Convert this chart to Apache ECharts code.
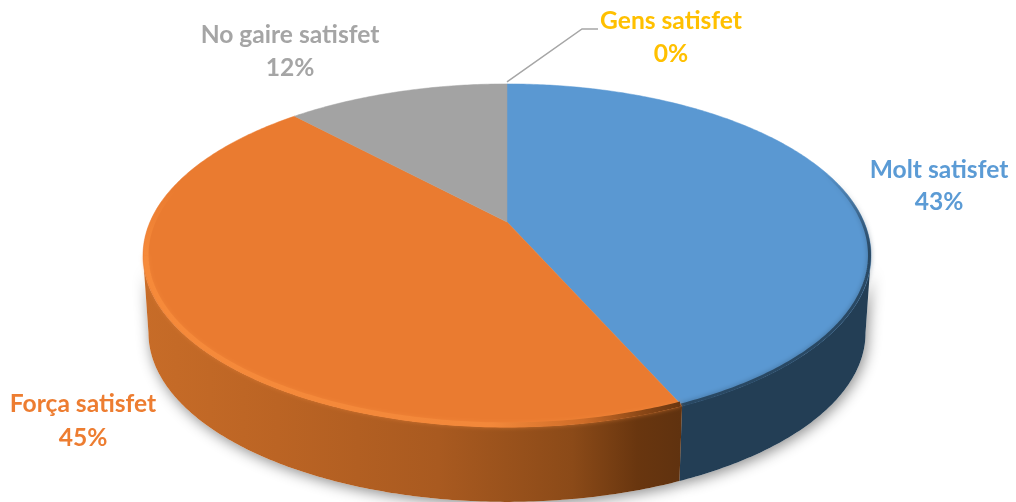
<!DOCTYPE html>
<html>
<head>
<meta charset="utf-8">
<style>
html, body { margin: 0; padding: 0; background: #fff; }
#main { width: 1016px; height: 502px; }
</style>
<script src="https://cdn.jsdelivr.net/npm/echarts@6/dist/echarts.min.js"></script>
</head>
<body>
<div id="main"></div>
<script>
var categories = ['Molt satisfet', 'Força satisfet', 'No gaire satisfet', 'Gens satisfet'];
var values = [43.4, 44.7, 11.9, 0];
var topColors = ['#5a98d2', '#ea7b30', '#a3a3a3', '#ffc000'];
var labelColors = ['#5b9bd5', '#ed7d31', '#a5a5a5', '#ffc000'];

var myChart = echarts.init(document.getElementById('main'));

// el pastis es dibuixa a mà: el 3d amb perspectiva no existeix a la pie normal
var cx = 507, cy = 222;
var a = 357, b = 165, p = 0.195;
var frontStart = Math.acos(-p), frontEnd = 2 * Math.PI - frontStart;
var total = values.reduce(function (s, v) { return s + v; }, 0);

function angles(i) {
    var sum = 0;
    for (var k = 0; k < i; k++) sum += values[k];
    return [sum / total * 2 * Math.PI, (sum + values[i]) / total * 2 * Math.PI];
}

function onTop(t, r) {
    var w = 1 + p * r * Math.cos(t);
    return [cx + a * r * Math.sin(t) / w, cy - b * r * Math.cos(t) / w];
}

function onBottom(t) {
    var q = onTop(t, 1);
    return [cx + (q[0] - cx) * 0.985, cy + (q[1] - cy) * 0.985 + 78];
}

function arc(t0, t1, fn) {
    var pts = [];
    var n = Math.max(2, Math.ceil((t1 - t0) * 90));
    for (var i = 0; i <= n; i++) {
        pts.push(fn(t0 + (t1 - t0) * i / n));
    }
    return pts;
}

function topArc(r) {
    return function (t) { return onTop(t, r); };
}

function hGradient(x0, x1, stops) {
    return {
        type: 'linear', x: x0, y: 0, x2: x1, y2: 0, global: true,
        colorStops: stops.map(function (s) { return { offset: s[0], color: s[1] }; })
    };
}

function vGradient(y0, y1, stops) {
    return {
        type: 'linear', x: 0, y: y0, x2: 0, y2: y1, global: true,
        colorStops: stops.map(function (s) { return { offset: s[0], color: s[1] }; })
    };
}

var sideFill = [
    '#233e55',
    hGradient(143, 680, [[0, '#c76c28'], [0.25, '#bb6424'], [0.55, '#a95a20'], [0.8, '#8b4a18'], [0.92, '#69360f'], [1, '#60320f']]),
    '#6a6a6a',
    '#997300'
];

function sidePoints(i) {
    var an = angles(i);
    var t0 = Math.max(an[0], frontStart), t1 = Math.min(an[1], frontEnd);
    if (t1 <= t0) return null;
    return arc(t0, t1, topArc(1)).concat(arc(t0, t1, onBottom).reverse());
}

function renderShadow(params, api) {
    var pts = sidePoints(params.dataIndex);
    if (!pts) return { type: 'group', children: [] };
    return {
        type: 'polygon', shape: { points: pts },
        style: { fill: '#fff', shadowBlur: 14, shadowColor: 'rgba(0,0,0,0.45)', shadowOffsetX: 2, shadowOffsetY: 3 }
    };
}

function renderSide(params, api) {
    var pts = sidePoints(params.dataIndex);
    if (!pts) return { type: 'group', children: [] };
    return { type: 'polygon', shape: { points: pts }, style: { fill: sideFill[params.dataIndex] } };
}

function renderTop(params, api) {
    var an = angles(params.dataIndex);
    if (an[1] <= an[0]) return { type: 'group', children: [] };
    var pts = [[cx, cy]].concat(arc(an[0], an[1], topArc(1)));
    var color = topColors[params.dataIndex];
    return { type: 'polygon', shape: { points: pts }, style: { fill: color, stroke: color, lineWidth: 0.5 } };
}

// bisell de la vora davantera
function renderRim(params, api) {
    var an = angles(params.dataIndex);
    if (params.dataIndex === 0) {
        return {
            type: 'polyline',
            shape: { points: arc(0.75, an[1], topArc(0.996)) },
            style: {
                fill: null, lineWidth: 3, shadowBlur: 5, shadowColor: 'rgba(35,62,85,0.6)',
                stroke: vGradient(170, 250, [[0, 'rgba(35,62,85,0)'], [1, 'rgba(35,62,85,0.85)']])
            }
        };
    }
    if (params.dataIndex === 1) {
        return {
            type: 'group',
            children: [{
                type: 'polyline',
                shape: { points: arc(an[0], frontEnd, topArc(0.992)) },
                style: {
                    fill: null, lineWidth: 5, shadowBlur: 4, shadowColor: 'rgba(247,141,62,0.5)',
                    stroke: hGradient(143, 680, [[0, '#f68a3a'], [0.65, '#f3883a'], [0.82, '#cf6d28'], [0.93, '#8a4716'], [1, '#6a3610']])
                }
            }, {
                type: 'polyline',
                shape: { points: arc(frontEnd, 5.05, topArc(0.992)) },
                style: {
                    fill: null, lineWidth: 5,
                    stroke: vGradient(190, 256, [[0, 'rgba(246,138,58,0)'], [1, '#f68a3a']])
                }
            }]
        };
    }
    return { type: 'group', children: [] };
}

var labelAt = [[939, 170, 202], [83, 404, 438], [290, 35, 68], [671, 21, 54]];

function renderLabel(params, api) {
    var i = params.dataIndex;
    var font = { fontFamily: 'Lato', fontWeight: 'bold', fontSize: 24.6, align: 'center', verticalAlign: 'middle', fill: labelColors[i] };
    var children = [
        { type: 'text', style: Object.assign({ x: labelAt[i][0], y: labelAt[i][1], text: categories[i] }, font) },
        { type: 'text', style: Object.assign({ x: labelAt[i][0], y: labelAt[i][2], text: Math.round(values[i]) + '%' }, font) }
    ];
    if (values[i] === 0) {
        var an = angles(i);
        var start = onTop(an[0], 1);
        children.push({
            type: 'polyline',
            shape: { points: [[start[0], start[1] - 2], [582, 29], [598, 29]] },
            style: { fill: null, stroke: '#a6a6a6', lineWidth: 1.5 }
        });
    }
    return { type: 'group', children: children };
}

function layer(fn, z) {
    return { type: 'custom', coordinateSystem: 'none', renderItem: fn, data: values, z: z, silent: true, animation: false, clip: false };
}

var option = {
    animation: false,
    series: [
        layer(renderShadow, 1),
        layer(renderSide, 2),
        layer(renderTop, 3),
        layer(renderRim, 4),
        layer(renderLabel, 5)
    ]
};
myChart.setOption(option);
</script>
</body>
</html>
